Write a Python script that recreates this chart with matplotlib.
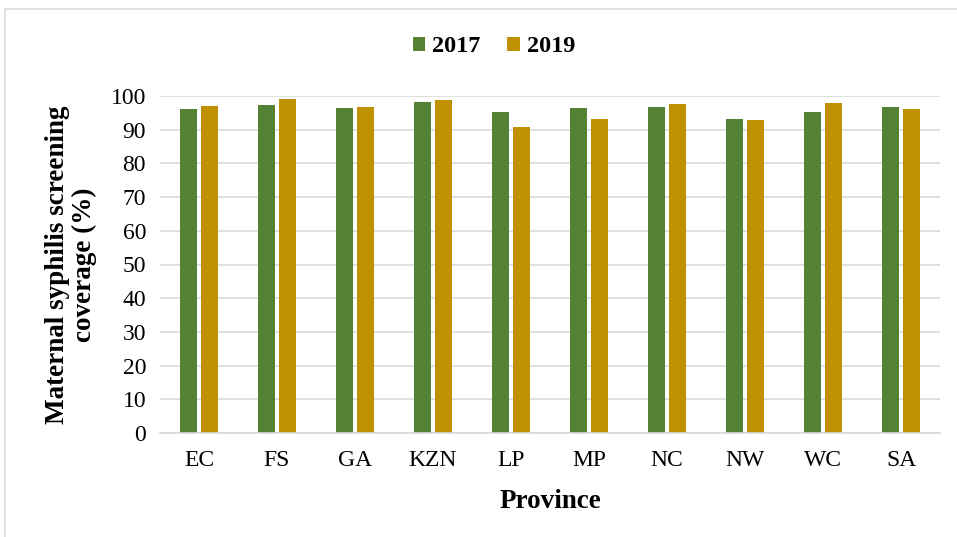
import numpy as np
import matplotlib.pyplot as plt
from matplotlib.patches import Rectangle

provinces = ["EC", "FS", "GA", "KZN", "LP", "MP", "NC", "NW", "WC", "SA"]
cov_2017 = [96.2, 97.2, 96.5, 98.3, 95.4, 96.5, 96.7, 93.2, 95.2, 96.6]
cov_2019 = [97.1, 99.0, 96.7, 98.7, 90.7, 93.2, 97.7, 93.0, 97.8, 96.2]

plt.rcParams['font.family'] = ['Liberation Serif', 'DejaVu Serif']

fig = plt.figure(figsize=(9.57, 5.37), dpi=100)
ax = fig.add_axes([160 / 957, (537 - 433) / 537, 780 / 957, 337 / 537])

# light frame around the chart like the source
fig.patches.append(Rectangle((5 / 957, -0.02), 1.0, (537 - 9) / 537 + 0.02,
                             transform=fig.transFigure, fill=False,
                             edgecolor="#d9d9d9", linewidth=1.2))

x = np.arange(len(provinces))
w = 0.22
ax.bar(x - 0.13, cov_2017, w, color="#548235", label="2017")
ax.bar(x + 0.13, cov_2019, w, color="#BF9000", label="2019")

ax.set_xlim(-0.5, len(provinces) - 0.5)
ax.set_ylim(0, 100)
ax.set_yticks(range(0, 101, 10))
ax.set_xticks(x)
ax.set_xticklabels(provinces)
ax.tick_params(axis="both", length=0, labelsize=17)
ax.tick_params(axis="x", pad=12)
ax.tick_params(axis="y", pad=10)
ax.grid(axis="y", color="#d9d9d9", linewidth=1.2)
ax.set_axisbelow(True)
for s in ["top", "right", "left"]:
    ax.spines[s].set_visible(False)
ax.spines["bottom"].set_color("#d9d9d9")
ax.spines["bottom"].set_linewidth(1.2)

ax.set_xlabel("Province", fontsize=19.5, fontweight="bold", labelpad=13)
ax.set_ylabel("Maternal syphilis screening\ncoverage (%)", fontsize=19.5,
              fontweight="bold", labelpad=10, linespacing=1.1)

fig.legend(loc="center", bbox_to_anchor=(494 / 957, 1 - 47 / 537), ncol=2,
           frameon=False, prop={"weight": "bold", "size": 17.5},
           handlelength=0.5, handleheight=0.5, handletextpad=0.3,
           columnspacing=1.1)

fig.savefig("out.png", dpi=100)
